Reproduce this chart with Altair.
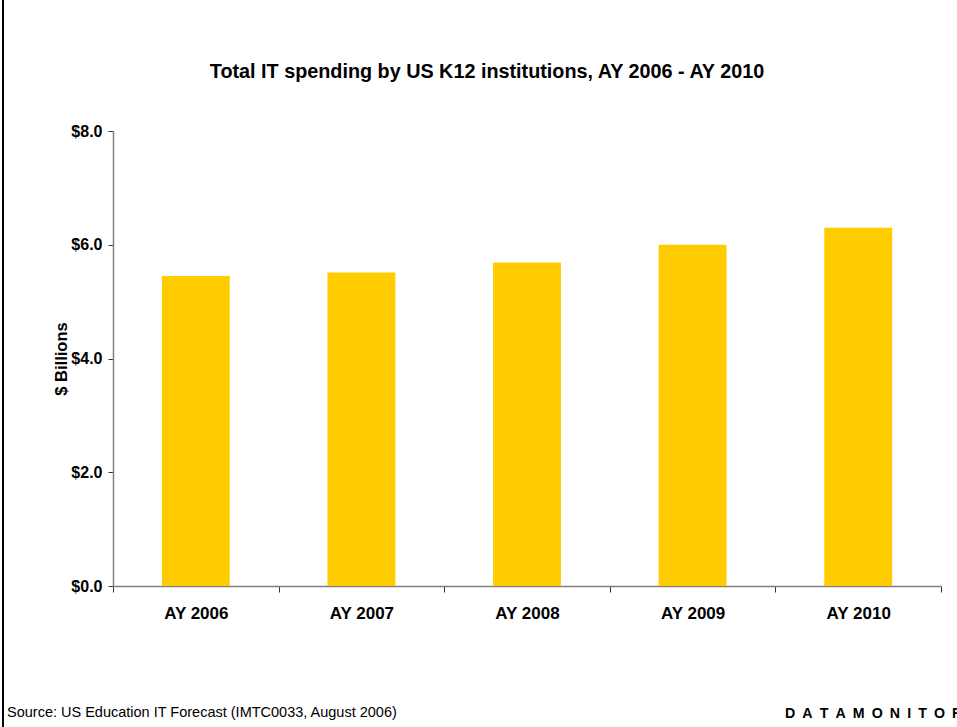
import altair as alt
import pandas as pd

years = ["AY 2006", "AY 2007", "AY 2008", "AY 2009", "AY 2010"]
spending = [5.45, 5.51, 5.69, 6.00, 6.30]

title_text = "Total IT spending by US K12 institutions, AY 2006 - AY 2010"
source_text = "Source: US Education IT Forecast (IMTC0033, August 2006)"
brand_text = "\u2002".join(list("DATAMONITOR"))

df = pd.DataFrame({"year": years, "value": spending})

FONT = "Liberation Sans"

bars = alt.Chart(df).mark_bar(color="#FFCC00", width={"band": 0.41}).encode(
    x=alt.X(
        "year:N",
        sort=years,
        scale=alt.Scale(paddingInner=0, paddingOuter=0),
        axis=alt.Axis(
            title=None,
            labelAngle=0,
            labelFont=FONT,
            labelFontSize=17,
            labelFontWeight="bold",
            labelColor="#000000",
            labelPadding=13,
            domainColor="#808080",
            domainWidth=1.5,
            tickColor="#333333",
            tickSize=6,
            tickBand="extent",
        ),
    ),
    y=alt.Y(
        "value:Q",
        scale=alt.Scale(domain=[0, 8]),
        axis=alt.Axis(
            title="$ Billions",
            titleFont=FONT,
            titleFontSize=16.5,
            titleFontWeight="bold",
            titleColor="#000000",
            titlePadding=1,
            values=[0, 2, 4, 6, 8],
            format="$.1f",
            labelFont=FONT,
            labelFontSize=16,
            labelFontWeight="bold",
            labelColor="#000000",
            labelPadding=6,
            domainColor="#808080",
            domainWidth=1.5,
            tickColor="#333333",
            tickSize=5,
            grid=False,
        ),
    ),
)

title = alt.Chart(alt.Data(values=[{"t": title_text}])).mark_text(
    font=FONT, fontSize=19.8, fontWeight="bold", align="center", baseline="alphabetic", color="#000000"
).encode(text="t:N", x=alt.value(374), y=alt.value(-53))

source = alt.Chart(alt.Data(values=[{"t": source_text}])).mark_text(
    font=FONT, fontSize=14.5, align="left", baseline="alphabetic", color="#000000"
).encode(text="t:N", x=alt.value(-106), y=alt.value(586))

brand = alt.Chart(alt.Data(values=[{"t": brand_text}])).mark_text(
    font=FONT, fontSize=14.2, fontWeight="bold", align="left", baseline="alphabetic", color="#000000"
).encode(text="t:N", x=alt.value(672), y=alt.value(587))

border = alt.Chart(alt.Data(values=[{"a": 1}])).mark_rule(color="#000000", strokeWidth=2).encode(
    x=alt.value(-110), y=alt.value(-131), y2=alt.value(596)
)

chart = alt.layer(bars, title, source, brand, border).properties(
    width=828,
    height=455,
    padding={"left": 113, "top": 131, "right": 16, "bottom": 141},
    autosize=alt.AutoSizeParams(type="none"),
    background="#FFFFFF",
).configure_view(stroke=None)

chart.save("out.html", embed_options={"renderer": "svg", "actions": False})
